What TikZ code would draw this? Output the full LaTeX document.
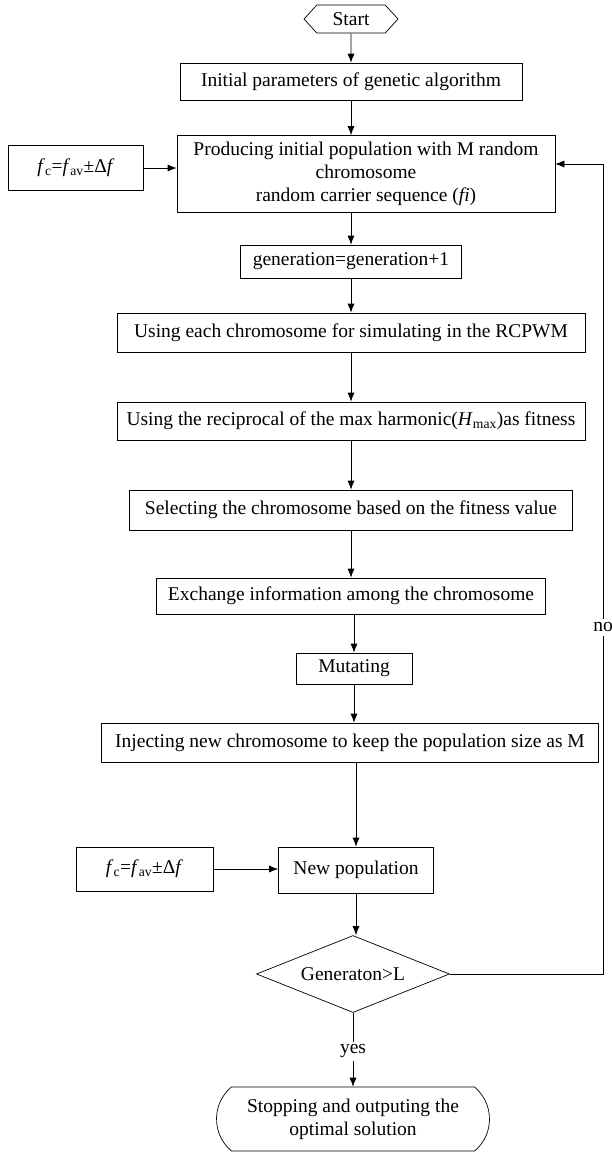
\documentclass[tikz,border=0pt]{standalone}
\usepackage{fontspec}
\setmainfont{Liberation Serif}
\usetikzlibrary{shapes.geometric,shapes.misc,shapes.symbols,arrows.meta}

\newcommand{\fcterm}{\textit{f}\textsubscript{c}=\textit{f}\textsubscript{av}±Δ\textit{f}}

\begin{document}
\begin{tikzpicture}[x=1pt,y=-1pt,line width=0.7pt,
    every node/.style={font=\fontsize{19.5}{23}\selectfont},
    procbox/.style={draw, inner sep=0pt, minimum height=37pt},
    arr/.style={-{Latex[length=9pt,width=7pt]}}]
    \useasboundingbox (0,0) rectangle (612,1157);

    % Start and set-up
    \node[draw, signal, signal to=west and east, signal pointer angle=95,
          minimum width=94pt, minimum height=28pt, inner sep=0pt] (start) at (351,19) {Start};
    \node[procbox, minimum width=342pt] (init) at (351,81.5) {Initial parameters of genetic algorithm};
    \node[procbox, minimum width=378pt, minimum height=77pt, align=center] (prod) at (366,174)
        {Producing initial population with M random\\chromosome\\random carrier sequence (\textit{fi})};
    \node[procbox, minimum width=135pt, minimum height=45pt] (fcA) at (76,168) {\fcterm};

    % Main loop
    \node[procbox, minimum width=221pt, minimum height=33pt] (gen) at (351,261.5) {generation=generation+1};
    \node[procbox, minimum width=468pt, minimum height=39pt] (sim) at (351,332.5) {Using each chromosome for simulating in the RCPWM};
    \node[procbox, minimum width=468pt, minimum height=38pt] (fit) at (351,421) {Using the reciprocal of the max harmonic(\textit{H}\textsubscript{max})as fitness};
    \node[procbox, minimum width=443pt, minimum height=40pt] (sel) at (351,510) {Selecting the chromosome based on the fitness value};
    \node[procbox, minimum width=389pt, minimum height=36pt] (exch) at (351,596) {Exchange information among the chromosome};
    \node[procbox, minimum width=116pt, minimum height=31pt] (mut) at (354,668.5) {Mutating};
    \node[procbox, minimum width=497pt, minimum height=39pt] (inj) at (350,742.5) {Injecting new chromosome to keep the population size as M};
    \node[procbox, minimum width=155pt, minimum height=46pt] (newpop) at (356,870) {New population};
    \node[procbox, minimum width=137pt, minimum height=44pt] (fcB) at (144.5,869) {\fcterm};

    % Decision and end
    \node[draw, diamond, aspect=2.5, inner sep=0pt, minimum width=193pt, minimum height=77pt] (test) at (353,974) {Generaton>L};
    \node[draw, rounded rectangle, rounded rectangle arc length=100, inner sep=0pt,
          minimum width=273pt, minimum height=64pt, align=center] (stop) at (353,1119)
        {Stopping and outputing the\\optimal solution};
    \coordinate (back) at (603,164);

    % Connectors
    \draw[arr] (start) -- (init);
    \draw[arr] (init.south) -- (init.south |- prod.north);
    \draw[arr] (fcA.east) -- (fcA.east -| prod.west);
    \draw[arr] (prod.south -| gen.north) -- (gen.north);
    \draw[arr] (gen) -- (sim);
    \draw[arr] (sim) -- (fit);
    \draw[arr] (fit) -- (sel);
    \draw[arr] (sel) -- (exch);
    \draw[arr] (exch.south -| mut.north) -- (mut.north);
    \draw[arr] (mut.south) -- (mut.south |- inj.north);
    \draw[arr] (inj.south -| newpop.north) -- (newpop.north);
    \draw[arr] (fcB.east) -- (fcB.east -| newpop.west);
    \draw[arr] (newpop.south) -- (newpop.south |- test.north);
    \draw[arr] (test.east) -| (back) -- (back -| prod.east);
    \path (test.east) -| node[pos=0.714, fill=white, inner sep=4pt] (nolbl) {no} (back);
    \draw[arr] (test.south) -- node[fill=white, inner sep=3pt, pos=0.52] (yeslbl) {yes} (stop.north);
\end{tikzpicture}
\end{document}
